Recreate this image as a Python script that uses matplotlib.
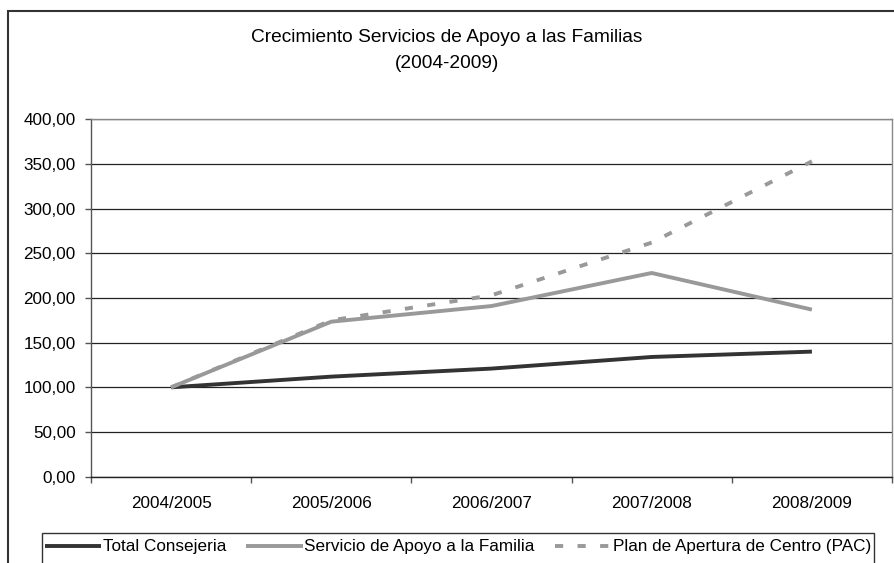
import matplotlib.pyplot as plt
from matplotlib.patches import Rectangle
from matplotlib.ticker import FixedLocator, FuncFormatter

plt.rcParams['font.family'] = ['Liberation Sans', 'DejaVu Sans']

cursos = ['2004/2005', '2005/2006', '2006/2007', '2007/2008', '2008/2009']
total_consejeria = [100.0, 112.0, 121.0, 134.0, 140.0]
servicio_apoyo = [100.0, 173.5, 191.0, 228.0, 187.0]
plan_apertura = [100.0, 175.0, 203.0, 262.0, 353.0]

W, H = 894, 563
fig = plt.figure(figsize=(W / 100, H / 100), dpi=100)

# marco exterior del grafico (se sale por la derecha y por abajo)
fig.patches.append(Rectangle((8 / W, -0.1), 1.1, 1.1 - 11 / H,
                             transform=fig.transFigure, fill=False,
                             edgecolor='#333333', linewidth=1.5))

ax = fig.add_axes([91 / W, (H - 476.7) / H, (892 - 91) / W, 357.4 / H])

x = range(len(cursos))
ax.plot(x, total_consejeria, color='#333333', lw=2.8, label='Total Consejeria',
        solid_capstyle='butt')
ax.plot(x, servicio_apoyo, color='#999999', lw=2.8,
        label='Servicio de Apoyo a la Familia', solid_capstyle='butt')
ax.plot(x, plan_apertura, color='#999999', lw=2.8, linestyle=(0, (2.1, 3.7)),
        label='Plan de Apertura de Centro (PAC)', dash_capstyle='butt')

ax.set_xlim(-0.5, len(cursos) - 0.5)
ax.set_ylim(0, 400)
ax.set_yticks(range(0, 401, 50))
ax.yaxis.set_major_formatter(FuncFormatter(lambda v, p: f'{v:.2f}'.replace('.', ',')))
ax.yaxis.grid(True, color='#222222', linewidth=0.9)
ax.set_axisbelow(True)

ax.xaxis.set_major_locator(FixedLocator([i - 0.5 for i in range(len(cursos) + 1)]))
ax.xaxis.set_minor_locator(FixedLocator(list(x)))
ax.set_xticklabels([])
ax.set_xticklabels(cursos, minor=True)
ax.tick_params(axis='x', which='major', length=4, width=1, color='#555555')
ax.tick_params(axis='x', which='minor', length=0, pad=14, labelsize=12.3)
ax.tick_params(axis='y', length=4, width=1, color='#555555', pad=7, labelsize=12.3)

for side in ('top', 'right'):
    ax.spines[side].set_color('#888888')
ax.spines['left'].set_color('#555555')
ax.spines['bottom'].set_color('#222222')
for s in ax.spines.values():
    s.set_linewidth(1)

fig.text(0.5, 1 - 38 / H, 'Crecimiento Servicios de Apoyo a las Familias',
         ha='center', va='center', fontsize=13.8)
fig.text(0.5, 1 - 63 / H, '(2004-2009)', ha='center', va='center', fontsize=13.8)

# caja de la leyenda, cortada por el borde inferior
fig.patches.append(Rectangle((42 / W, -0.1), 832 / W, 0.1 + (H - 533) / H,
                             transform=fig.transFigure, fill=False,
                             edgecolor='#333333', linewidth=1))
yc = 1 - 547 / H
fig.legend(loc='center left', bbox_to_anchor=(45 / W, yc - 0.01, 826 / W, 0.02),
           mode='expand', ncol=3, fontsize=12.3, frameon=False,
           handlelength=3.3, handletextpad=0.1, columnspacing=0.3,
           borderaxespad=0, borderpad=0)

fig.savefig('out.png', dpi=100)
